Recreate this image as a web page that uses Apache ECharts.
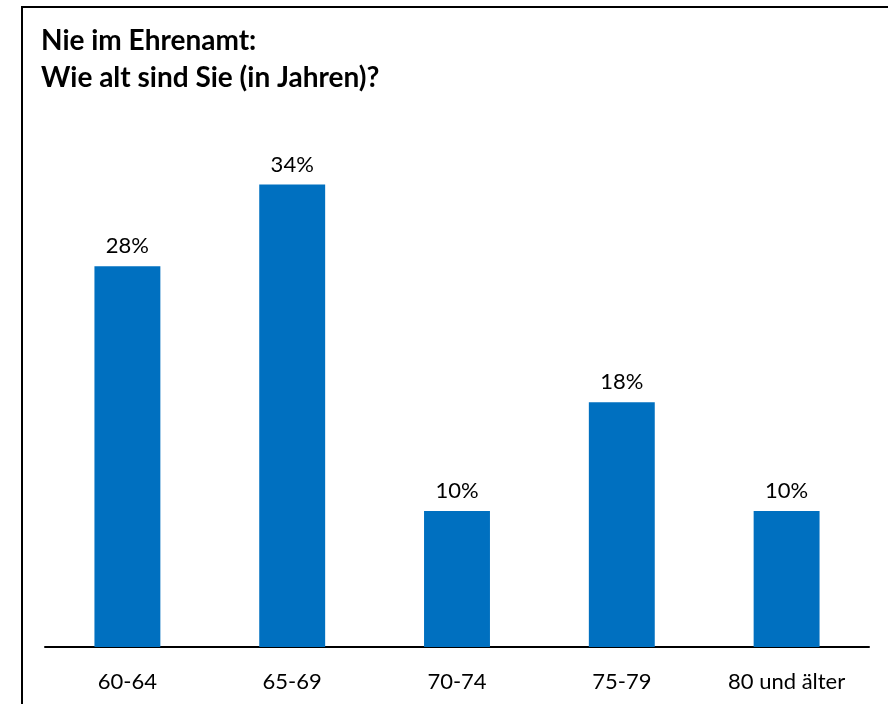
<!DOCTYPE html>
<html>
<head>
<meta charset="utf-8">
<script src="https://cdn.jsdelivr.net/npm/echarts@6/dist/echarts.min.js"></script>
<style>
  html, body { margin: 0; padding: 0; background: #fff; }
  #chart { width: 888px; height: 704px; }
</style>
</head>
<body>
<div id="chart"></div>
<script>
const categories = ['60-64', '65-69', '70-74', '75-79', '80 und älter']
const values = [28, 34, 10, 18, 10]

const myChart = echarts.init(document.getElementById('chart'))
const option = {
  animation: false,
  title: {
    text: 'Nie im Ehrenamt:\nWie alt sind Sie (in Jahren)?',
    left: 36,
    top: 17,
    textStyle: {
      color: '#000',
      fontFamily: 'Lato',
      fontSize: 28,
      fontWeight: 'bold',
      lineHeight: 37
    }
  },
  graphic: [
    {
      type: 'polyline',
      shape: { points: [[22, 704], [22, 7], [888, 7]] },
      style: { stroke: '#000', lineWidth: 2, fill: null }
    }
  ],
  grid: {
    left: 45,
    right: 19,
    top: 103,
    bottom: 57,
    containLabel: false
  },
  xAxis: {
    type: 'category',
    data: categories,
    axisLine: { show: true, lineStyle: { color: '#000', width: 2 } },
    axisTick: { show: false },
    axisLabel: {
      color: '#000',
      fontFamily: 'Lato',
      fontSize: 22,
      margin: 24
    }
  },
  yAxis: {
    type: 'value',
    min: 0,
    max: 40,
    show: false,
    splitLine: { show: false }
  },
  series: [
    {
      type: 'bar',
      data: values,
      barWidth: '40%',
      itemStyle: { color: '#0070C0' },
      label: {
        show: true,
        position: 'top',
        distance: 9,
        formatter: '{c}%',
        color: '#000',
        fontFamily: 'Lato',
        fontSize: 22
      }
    }
  ]
}
myChart.setOption(option)
</script>
</body>
</html>
